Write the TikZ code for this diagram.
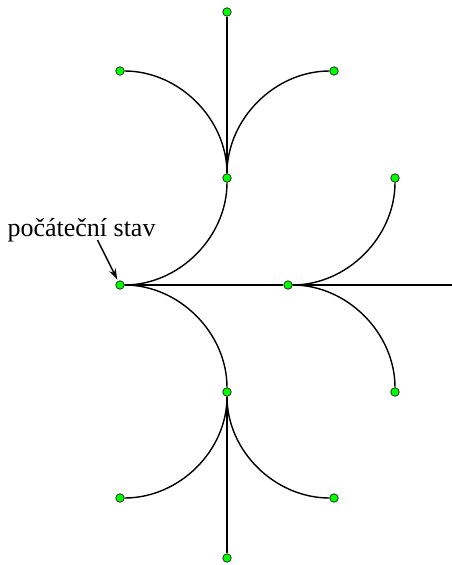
\documentclass[tikz,border=0pt]{standalone}
\usepackage{fontspec}
\setmainfont{Liberation Serif}
\usepackage{tikz}
\usetikzlibrary{arrows.meta,positioning}
\newcommand{\qk}{59.1}

\begin{document}
\begin{tikzpicture}[x=1pt,y=-1pt,
    stav/.style={circle,draw,line width=0.6pt,fill=green,inner sep=0pt,minimum size=8.5pt},
    cesta/.style={line width=1.4pt}]
  \useasboundingbox (0,0) rectangle (452,565);
  % states
  \node[stav] (s) at (120,285) {};
  \node[stav] (a) at (227,178) {};
  \node[stav] (at) at (227,12) {};
  \node[stav] (al) at (120,71) {};
  \node[stav] (ar) at (334,71) {};
  \node[stav] (b) at (288,285) {};
  \coordinate (be) at (452,285);
  \node[stav] (bu) at (395,178) {};
  \node[stav] (bd) at (395,392) {};
  \node[stav] (c) at (227,392) {};
  \node[stav] (cb) at (227,558) {};
  \node[stav] (cl) at (120,498) {};
  \node[stav] (cr) at (334,498) {};
  % paths
  \draw[cesta] (s) .. controls +(\qk,0) and +(0,\qk) .. (a);
  \draw[cesta] (a) .. controls +(0,-\qk) and +(\qk,0) .. (al);
  \draw[cesta] (a) .. controls +(0,-\qk) and +(-\qk,0) .. (ar);
  \draw[cesta] (a) -- (at);
  \draw[cesta] (s) -- (b);
  \draw[cesta] (b) -- (be);
  \draw[cesta] (b) .. controls +(\qk,0) and +(0,\qk) .. (bu);
  \draw[cesta] (b) .. controls +(\qk,0) and +(0,-\qk) .. (bd);
  \draw[cesta] (s) .. controls +(\qk,0) and +(0,-\qk) .. (c);
  \draw[cesta] (c) .. controls +(0,\qk) and +(\qk,0) .. (cl);
  \draw[cesta] (c) .. controls +(0,\qk) and +(-\qk,0) .. (cr);
  \draw[cesta] (c) -- (cb);
  % label
  \node[anchor=base,inner sep=0pt,font=\fontsize{26}{30}\selectfont] (start) at (81.5,236) {počáteční stav};
  \coordinate (sipka) at (97.5,240);
  \draw[line width=1.5pt,-{Stealth[length=11pt,width=7pt]},shorten >=1.5pt] (sipka) -- (s);
\end{tikzpicture}
\end{document}
